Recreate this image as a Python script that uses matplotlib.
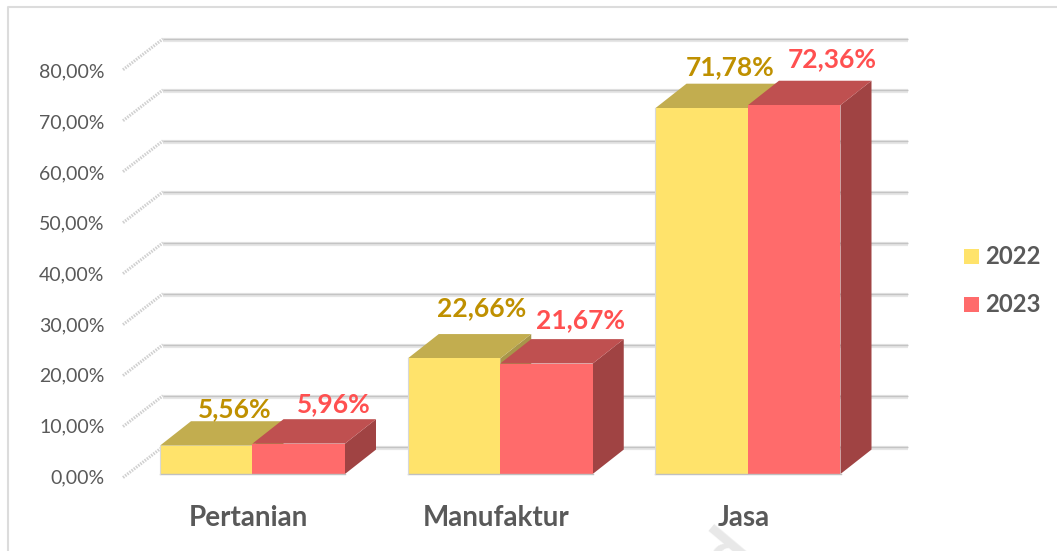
import matplotlib
matplotlib.use("Agg")
import matplotlib.pyplot as plt
from matplotlib.patches import Polygon, Rectangle

plt.rcParams['font.family'] = ['Lato', 'DejaVu Sans']

categories = ['Pertanian', 'Manufaktur', 'Jasa']
years = ['2022', '2023']
values_2022 = [5.56, 22.66, 71.78]
values_2023 = [5.96, 21.67, 72.36]
labels_2022 = ['5,56%', '22,66%', '71,78%']
labels_2023 = ['5,96%', '21,67%', '72,36%']
y_ticks = [0, 10, 20, 30, 40, 50, 60, 70, 80]
y_tick_labels = ['0,00%', '10,00%', '20,00%', '30,00%', '40,00%', '50,00%', '60,00%', '70,00%', '80,00%']

W, H = 1057, 551
PX_Y = 5.12      # pixels per percent
PX_X = 247.75    # pixels per category
BASE = 476       # pixel row of the value 0 on the bar fronts

fig = plt.figure(figsize=(W / 100, H / 100), dpi=100)
ax_left, ax_right = 117, 920
ax = fig.add_axes([ax_left / W, (H - BASE) / H, (ax_right - ax_left) / W, 90 * PX_Y / H])
ax.set_xlim((ax_left - 252.5) / PX_X, (ax_right - 252.5) / PX_X)
ax.set_ylim(0, 90)
for s in ax.spines.values():
    s.set_visible(False)
ax.patch.set_visible(False)

# depth of the 3d box and of the bars, in data units
wall_dx, wall_dy = 40 / PX_X, 31 / PX_Y
bar_dx, bar_dy = 31 / PX_X, 24.5 / PX_Y
front_x = (123 - 252.5) / PX_X
wall_end = (908 - 252.5) / PX_X
floor = -0.7

# back wall gridlines and side wall diagonals
for v in y_ticks:
    y = v + floor + wall_dy
    ax.plot([front_x + wall_dx, wall_end], [y - 0.3, y - 0.3], color='#e6e6e6', lw=3, zorder=1, clip_on=False, solid_capstyle='butt')
    ax.plot([front_x + wall_dx, wall_end], [y, y], color='#c4c4c4', lw=1, zorder=1, clip_on=False, solid_capstyle='butt')
    ax.plot([front_x, front_x + wall_dx], [v + floor, y], color='#d0d0d0', lw=2.2, ls=(0, (0.5, 0.4)), zorder=1, clip_on=False)

colors = {
    '2022': ('#ffe36b', '#c2ad4f', '#a8964a'),
    '2023': ('#ff6b6b', '#bf5050', '#a04343'),
}
bar_w = 92.5 / PX_X


def draw_bar(x0, h, col):
    front, top, side = col
    ax.add_patch(Polygon([(x0 + bar_w, 0), (x0 + bar_w + bar_dx, bar_dy), (x0 + bar_w + bar_dx, h + bar_dy), (x0 + bar_w, h)],
                         fc=side, ec='none', zorder=3, clip_on=False))
    ax.add_patch(Polygon([(x0, h), (x0 + bar_dx, h + bar_dy), (x0 + bar_w + bar_dx, h + bar_dy), (x0 + bar_w, h)],
                         fc=top, ec='none', zorder=3, clip_on=False))
    ax.bar(x0, h, bar_w, align='edge', color=front, linewidth=0, zorder=4, clip_on=False)


# labels were moved by hand in the original, nudges are in pixels (right, up)
nudge_2022 = [(28, -3), (28, 11), (28, 1)]
nudge_2023 = [(35, -4), (34, 0), (38, 2)]

for i in range(len(categories)):
    draw_bar(i - bar_w, values_2022[i], colors['2022'])
    draw_bar(i, values_2023[i], colors['2023'])
    ax.plot([i - bar_w, i + bar_w], [0, 0], color='#c0c0c0', lw=1, zorder=5, clip_on=False)
    ax.plot([i - bar_w, i - bar_w], [0, values_2022[i]], color='#d8d8d8', lw=0.8, zorder=5, clip_on=False)
    ax.text(i - bar_w / 2 + nudge_2022[i][0] / PX_X, values_2022[i] + bar_dy + 0.6 + nudge_2022[i][1] / PX_Y, labels_2022[i],
            color='#bf9000', fontsize=19, fontweight='bold', ha='center', va='bottom', zorder=6)
    ax.text(i + bar_w / 2 + nudge_2023[i][0] / PX_X, values_2023[i] + bar_dy + 1.4 + nudge_2023[i][1] / PX_Y, labels_2023[i],
            color='#ff5050', fontsize=19, fontweight='bold', ha='center', va='bottom', zorder=6)

ax.set_xticks([i - 0.018 for i in range(len(categories))])
ax.set_xticklabels(categories, fontsize=20, fontweight='bold', color='#595959')
# the value labels sit on a slightly tighter spacing than the gridlines
ax.set_yticks([v * 0.994 - 0.4 for v in y_ticks])
ax.set_yticklabels(y_tick_labels, fontsize=14, color='#595959')
ax.tick_params(axis='both', length=0)
ax.tick_params(axis='x', pad=21)
ax.tick_params(axis='y', pad=9)

# legend by hand, in figure pixels
for yr, py in zip(years, [256.5, 304.5]):
    fig.add_artist(Rectangle((964 / W, 1 - (py + 7.5) / H), 15 / W, 15 / H, fc=colors[yr][0], ec='none', transform=fig.transFigure))
    fig.text(985.5 / W, 1 - py / H, yr, fontsize=17.2, fontweight='bold', color='#595959', va='center')

# outer frame
fig.add_artist(plt.Line2D([8 / W, 8 / W, 1], [0, 1 - 7 / H, 1 - 7 / H], color='#dcdcdc', lw=1.5))

# watermark, cut off by the lower edge like in the original
fig.text(729 / W, 1 - 556 / H, 'd', fontsize=52, fontweight='bold', color='#e8e8e8', rotation=50, ha='center', va='center', zorder=0)

fig.savefig('out.png', dpi=100)
